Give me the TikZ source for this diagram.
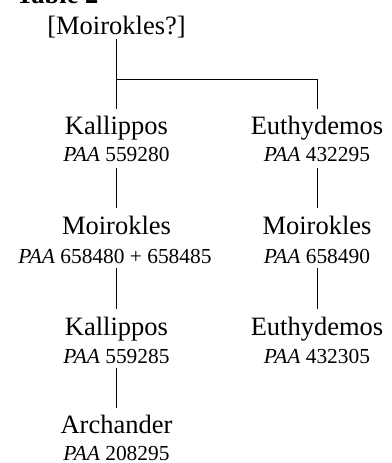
\documentclass[tikz,border=0pt]{standalone}
\usepackage{fontspec}
\setmainfont{Liberation Serif}
\usetikzlibrary{positioning}
\tikzset{
  famTitle/.style={
    font=\fontsize{26.5pt}{30pt}\selectfont\bfseries,
    anchor=base west,
    inner sep=0pt
  },
  famName/.style={
    font=\fontsize{26.5pt}{30pt}\selectfont,
    anchor=base,
    inner sep=0pt
  },
  famPAA/.style={
    font=\fontsize{21.4pt}{25pt}\selectfont,
    anchor=base,
    inner sep=0pt
  },
  famLine/.style={
    line width=0.9pt,
    color=black
  }
}
\newcommand{\paa}[1]{\textit{PAA} #1}

\begin{document}
\begin{tikzpicture}[x=1pt, y=1pt]
        \useasboundingbox (0,0) rectangle (391,-463);
        \node (title) [famTitle] at (16,-4) {Table 2};
        \node (top) [famName] at (116.5,-34) {[Moirokles?]};

        % left line
        \node (kal1) [famName] at (116.5,-134) {Kallippos};
        \node (kal1p) [famPAA] at (116.5,-161) {\paa{559280}};
        \node (moi1) [famName] at (116.5,-234) {Moirokles};
        \node (moi1p) [famPAA] at (115,-263) {\paa{658480 + 658485}};
        \node (kal2) [famName] at (116.5,-335) {Kallippos};
        \node (kal2p) [famPAA] at (116.5,-363) {\paa{559285}};
        \node (arch) [famName] at (116.5,-433) {Archander};
        \node (archp) [famPAA] at (116.5,-460.5) {\paa{208295}};

        % right line
        \node (eut1) [famName] at (317,-134) {Euthydemos};
        \node (eut1p) [famPAA] at (317,-161) {\paa{432295}};
        \node (moi2) [famName] at (317,-234) {Moirokles};
        \node (moi2p) [famPAA] at (317,-263) {\paa{658490}};
        \node (eut2) [famName] at (317,-335) {Euthydemos};
        \node (eut2p) [famPAA] at (317,-363) {\paa{432305}};

        \coordinate (fork) at ([yshift=-45pt]top.base);
        \draw [famLine] ([yshift=-5pt]top.base) -- ([yshift=25pt]kal1.base);
        \draw [famLine] (fork) -| ([yshift=25pt]eut1.base);

        \draw [famLine] ([yshift=-7pt]kal1p.base) -- ([yshift=26pt]moi1.base);
        \draw [famLine] ([yshift=-5pt]moi1p.base -| moi1.base) -- ([yshift=26pt]kal2.base);
        \draw [famLine] ([yshift=-5pt]kal2p.base) -- ([yshift=25pt]arch.base);
        \draw [famLine] ([yshift=-7pt]eut1p.base) -- ([yshift=26pt]moi2.base);
        \draw [famLine] ([yshift=-5pt]moi2p.base) -- ([yshift=26pt]eut2.base);
      \end{tikzpicture}
\end{document}
